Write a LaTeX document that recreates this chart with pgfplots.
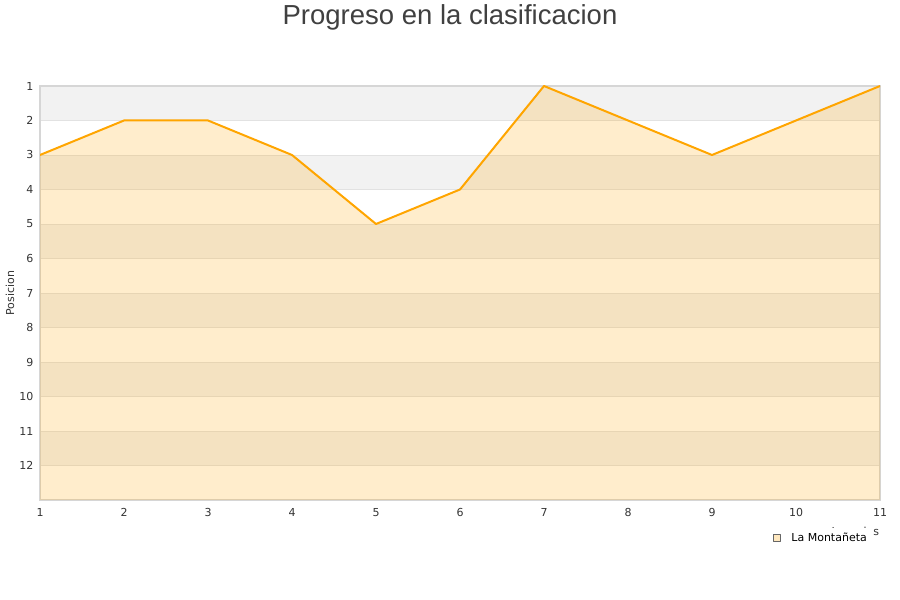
\documentclass[border=0pt]{standalone}
\usepackage{fontspec}
\setmainfont{DejaVu Sans}
\newfontfamily\titlefont{Liberation Sans}
\usepackage{pgfplots}
\pgfplotsset{compat=1.18}
\definecolor{lineor}{HTML}{FFA500}
\definecolor{band}{HTML}{F2F2F2}
\definecolor{frame}{HTML}{D6D6D6}
\definecolor{gridc}{HTML}{E2E2E2}
\definecolor{ticktxt}{HTML}{333333}

\begin{document}
\begin{tikzpicture}
\path (0pt,0pt) rectangle (900pt,600pt);
\node[font=\titlefont\fontsize{27.5}{31}\selectfont, text=black!75] at (450pt,583pt) {Progreso en la clasificacion};
\begin{axis}[
    set layers,
    at={(40pt,100pt)}, anchor=south west,
    scale only axis,
    width=840pt, height=414pt,
    xmin=1, xmax=11,
    ymin=1, ymax=13,
    y dir=reverse,
    xtick={1,2,3,4,5,6,7,8,9,10,11},
    ytick={1,2,3,4,5,6,7,8,9,10,11,12},
    major tick length=0pt,
    ymajorgrids,
    major grid style={draw=gridc, line width=0.8pt},
    axis line style={draw=frame, line width=1.2pt},
    tick label style={font=\fontsize{11}{13}\selectfont, text=ticktxt},
    /pgf/number format/assume math mode=true,
    xticklabel style={yshift=-5pt},
    yticklabel style={xshift=-3pt},
    ylabel={Posicion},
    ylabel style={font=\fontsize{11}{13}\selectfont, text=ticktxt, at={(axis description cs:-0.0357,0.5)}, anchor=center},
    xlabel={Jornadas},
    xlabel style={font=\fontsize{11}{13}\selectfont, text=ticktxt, at={(axis description cs:1.003,-0.0785)}, anchor=east},
    legend style={at={(0.9917,-0.0675)}, anchor=north east, draw=none, fill=white,
        font=\fontsize{11}{13}\selectfont, inner xsep=4pt, inner ysep=3pt},
    legend image code/.code={\draw[fill=lineor!25, draw=black!60, line width=0.6pt] (0pt,-3.5pt) rectangle (7pt,3.5pt);
        \path[draw=none] (0pt,0pt) -- (16pt,0pt);},
]
% alternating background bands
\addplot[fill=band, draw=none, on layer=axis background, forget plot] coordinates {(1,1) (11,1) (11,2) (1,2)};
\addplot[fill=band, draw=none, on layer=axis background, forget plot] coordinates {(1,3) (11,3) (11,4) (1,4)};
\addplot[fill=band, draw=none, on layer=axis background, forget plot] coordinates {(1,5) (11,5) (11,6) (1,6)};
\addplot[fill=band, draw=none, on layer=axis background, forget plot] coordinates {(1,7) (11,7) (11,8) (1,8)};
\addplot[fill=band, draw=none, on layer=axis background, forget plot] coordinates {(1,9) (11,9) (11,10) (1,10)};
\addplot[fill=band, draw=none, on layer=axis background, forget plot] coordinates {(1,11) (11,11) (11,12) (1,12)};
\addplot[fill=lineor, fill opacity=0.2, draw=none, forget plot] coordinates {
    (1,13) (1,3) (2,2) (3,2) (4,3) (5,5) (6,4) (7,1) (8,2) (9,3) (10,2) (11,1) (11,13)
};
\addplot[draw=lineor, line width=2pt, line join=round] coordinates {
    (1,3) (2,2) (3,2) (4,3) (5,5) (6,4) (7,1) (8,2) (9,3) (10,2) (11,1)
};
\legend{La Montañeta}
\end{axis}
\end{tikzpicture}
\end{document}
